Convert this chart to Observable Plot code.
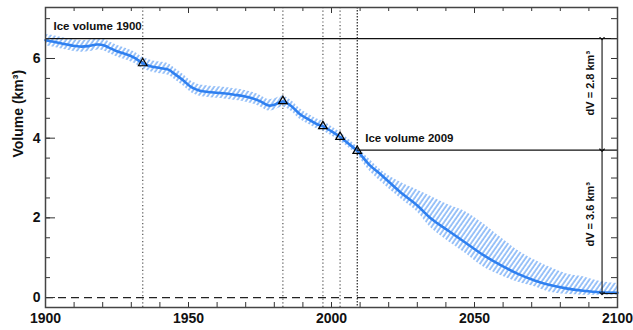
<!DOCTYPE html>
<html><head><meta charset="utf-8">
<script src="https://cdn.jsdelivr.net/npm/d3@7"></script>
<script src="https://cdn.jsdelivr.net/npm/@observablehq/plot@0.6"></script>
<style>html,body{margin:0;padding:0;background:#fff} svg{display:block}</style>
</head><body><div id="chart"></div>
<script>
// ---- data ----
const years = [1900,1903,1906,1909,1912,1915,1918,1920,1922,1925,1928,1931,1934,1937,1940,1943,1945,1948,1951,1954,1957,1960,1963,1966,1969,1972,1975,1978,1980,1983,1986,1989,1992,1995,1997,2000,2003,2006,2009,2013,2018,2024,2030,2035,2041,2047,2053,2059,2065,2071,2076,2082,2088,2094,2100];
const volume = [6.46,6.42,6.37,6.33,6.30,6.31,6.35,6.34,6.28,6.18,6.11,6.02,5.88,5.80,5.76,5.72,5.62,5.46,5.28,5.19,5.16,5.14,5.12,5.09,5.06,5.01,4.93,4.82,4.84,4.92,4.80,4.60,4.47,4.35,4.30,4.17,4.03,3.86,3.68,3.35,3.04,2.65,2.31,1.97,1.67,1.37,1.07,0.82,0.60,0.43,0.32,0.23,0.17,0.13,0.12];
const volumeHigh = [6.60,6.57,6.52,6.48,6.45,6.46,6.50,6.49,6.43,6.33,6.26,6.17,6.03,5.95,5.91,5.87,5.77,5.61,5.43,5.34,5.31,5.29,5.27,5.24,5.21,5.16,5.08,4.97,4.99,5.06,4.94,4.74,4.60,4.48,4.43,4.29,4.15,3.97,3.78,3.49,3.16,2.90,2.70,2.53,2.32,2.15,1.86,1.52,1.19,0.94,0.77,0.60,0.52,0.40,0.35];
const volumeLow = [6.32,6.28,6.23,6.19,6.16,6.17,6.21,6.20,6.14,6.04,5.97,5.88,5.74,5.66,5.62,5.58,5.48,5.32,5.14,5.05,5.02,5.00,4.98,4.95,4.92,4.87,4.79,4.68,4.70,4.78,4.67,4.47,4.35,4.23,4.18,4.06,3.92,3.76,3.58,3.20,2.86,2.49,2.15,1.73,1.40,1.10,0.77,0.56,0.39,0.27,0.14,0.08,0.06,0.06,0.06];

const markerYears = [1934,1983,1997,2003,2009];
const markerVolumes = [5.88,4.93,4.30,4.03,3.68];

const xTickLabels = [1900,1950,2000,2050,2100];
const xMinorTicks = [1900,1910,1920,1930,1940,1950,1960,1970,1980,1990,2000,2010,2020,2030,2040,2050,2060,2070,2080,2090,2100];
const yTickLabels = [0,2,4,6];
const yMinorTicks = [0,0.5,1,1.5,2,2.5,3,3.5,4,4.5,5,5.5,6,6.5,7];

const volume1900 = 6.5, volume2009 = 3.7, volume2100 = 0.1;
const arrowYear = 2094.6;
const labelTop = "Ice volume 1900", labelMid = "Ice volume 2009";
const dvTop = "dV = 2.8 km\u00B3", dvBottom = "dV = 3.6 km\u00B3";
const dvTopY = 5.38, dvBottomY = 2.09;
const yLabel = "Volume (km\u00B3)";

const rows = years.map((year, i) => ({year, volume: volume[i], low: volumeLow[i], high: volumeHigh[i]}));
const markers = markerYears.map((year, i) => ({year, volume: markerVolumes[i]}));

// ---- layout ----
const W = 633, H = 330, mL = 45, mR = 16, mT = 7, mB = 23;
const fw = W - mL - mR, fh = H - mT - mB;
const font = "'Liberation Sans', Arial, Helvetica, sans-serif";
const ink = "#111";

const chart = Plot.plot({
  width: W, height: H,
  marginLeft: mL, marginRight: mR, marginTop: mT, marginBottom: mB,
  style: {fontFamily: font, fontWeight: "bold", fontSize: "14px", background: "#fff", color: ink},
  x: {domain: [1900, 2100], ticks: xTickLabels, tickFormat: "d", tickSize: 0, tickPadding: 6, label: null},
  y: {domain: [-0.25, 7.28], ticks: yTickLabels, tickFormat: "d", tickSize: 0, tickPadding: 5, label: null},
  marks: [
    Plot.areaY(rows, {x: "year", y1: "low", y2: "high", fill: "url(#hatch)", curve: "catmull-rom"}),
    Plot.ruleY([0], {stroke: "#222", strokeDasharray: "8,5", strokeWidth: 1.2}),
    Plot.ruleX(markerYears.slice(0, 4), {stroke: "#555", strokeDasharray: "1.2,2.4", strokeWidth: 1.2}),
    Plot.ruleX(markerYears.slice(4), {stroke: ink, strokeDasharray: "1.5,1.5", strokeWidth: 1.1}),
    Plot.lineY(rows, {x: "year", y: "volume", stroke: "#2f80f0", strokeWidth: 2.6, curve: "catmull-rom"}),
    Plot.ruleY([volume1900], {stroke: ink, strokeWidth: 1.1}),
    Plot.ruleY([volume2009], {x1: 2009, x2: 2100, stroke: ink, strokeWidth: 1.1}),
    Plot.ruleY([volume2100], {x1: arrowYear, x2: 2100, stroke: ink, strokeWidth: 1.1}),
    Plot.link([{a: volume1900, b: volume2009}, {a: volume2009, b: volume2100}], {
      x1: arrowYear, x2: arrowYear, y1: "a", y2: "b",
      markerStart: "arrow", markerEnd: "arrow", stroke: ink, strokeWidth: 1.1
    }),
    Plot.dot(markers, {x: "year", y: "volume", symbol: "triangle", r: 3.2, stroke: "#000", fill: "none", strokeWidth: 1.2}),
    Plot.text([labelTop], {text: d => d, x: 1900, y: volume1900, dx: 8, dy: -12, textAnchor: "start", fontSize: 11.5, fill: ink}),
    Plot.text([labelMid], {text: d => d, x: 2009, y: volume2009, dx: 8, dy: -12, textAnchor: "start", fontSize: 11.5, fill: ink}),
    Plot.text([dvTop], {text: d => d, x: arrowYear, y: dvTopY, dx: -12, rotate: -90, fontSize: 11, fill: ink}),
    Plot.text([dvBottom], {text: d => d, x: arrowYear, y: dvBottomY, dx: -12, rotate: -90, fontSize: 11, fill: ink}),
    Plot.text([yLabel], {text: d => d, frameAnchor: "left", rotate: -90, dx: -27, fontSize: 14, fill: ink}),
    // inward ticks
    Plot.ruleX(xMinorTicks, {insetTop: fh - 5, stroke: "#333", strokeWidth: 1}),
    Plot.ruleX(xMinorTicks, {insetBottom: fh - 4, stroke: "#333", strokeWidth: 1}),
    Plot.ruleX(xTickLabels, {insetBottom: fh - 6, stroke: "#333", strokeWidth: 1}),
    Plot.ruleY(yMinorTicks, {insetRight: fw - 5, stroke: "#333", strokeWidth: 1}),
    Plot.ruleY(yTickLabels, {insetRight: fw - 10, stroke: "#333", strokeWidth: 1}),
    Plot.ruleY(yMinorTicks, {insetLeft: fw - 6, stroke: "#333", strokeWidth: 1}),
    Plot.frame({stroke: "#444", strokeWidth: 1.5})
  ]
});

const svg = chart.tagName.toLowerCase() === "svg" ? chart : chart.querySelector("svg");
const NS = "http://www.w3.org/2000/svg";
const defs = document.createElementNS(NS, "defs");
const pat = document.createElementNS(NS, "pattern");
pat.setAttribute("id", "hatch");
pat.setAttribute("patternUnits", "userSpaceOnUse");
pat.setAttribute("width", "3.8");
pat.setAttribute("height", "10");
pat.setAttribute("patternTransform", "rotate(35)");
const ln = document.createElementNS(NS, "line");
ln.setAttribute("x1", "1"); ln.setAttribute("y1", "0");
ln.setAttribute("x2", "1"); ln.setAttribute("y2", "10");
ln.setAttribute("stroke", "#5a9cf4");
ln.setAttribute("stroke-width", "1.2");
pat.appendChild(ln);
defs.appendChild(pat);
svg.insertBefore(defs, svg.firstChild);

document.getElementById("chart").appendChild(chart);
</script>
</body></html>
